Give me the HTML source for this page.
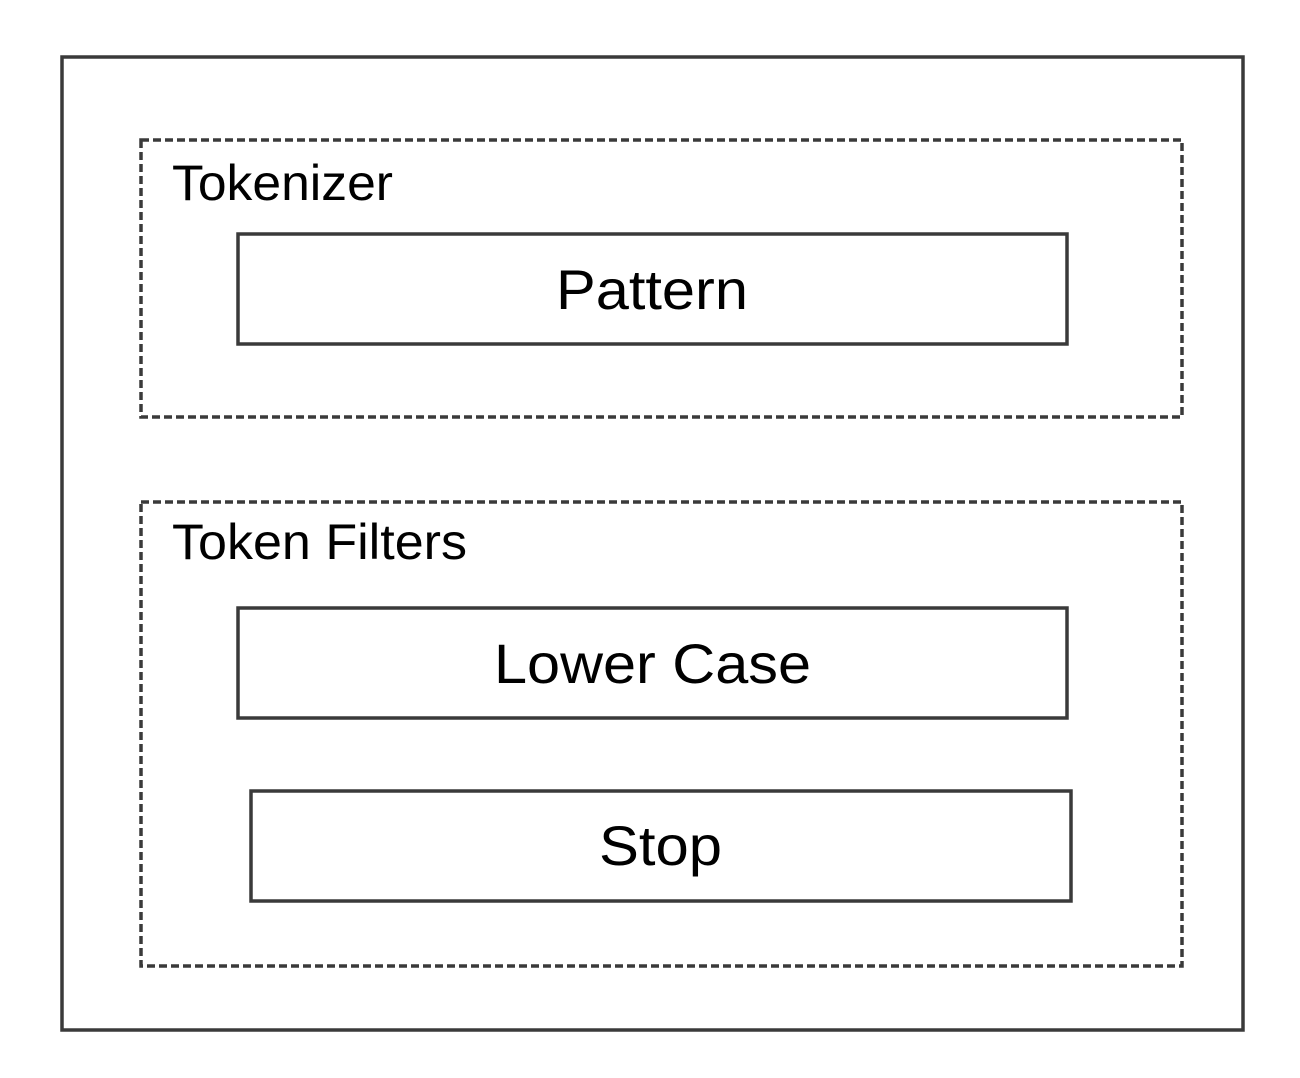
<!DOCTYPE html>
<html><head><style>html,body{margin:0;padding:0;background:#fff;}svg{display:block}</style></head>
<body>
<svg width="1300" height="1078" viewBox="0 0 1300 1078" xmlns="http://www.w3.org/2000/svg">
<g fill="none" stroke="#3a3a3a" stroke-width="3.5">
<rect x="62" y="57" width="1181" height="973"/>
<rect x="141" y="140" width="1041" height="277" stroke-dasharray="8 4"/>
<rect x="141" y="502" width="1041" height="464" stroke-dasharray="8 4"/>
<rect x="238" y="234" width="829" height="110"/>
<rect x="238" y="608" width="829" height="110"/>
<rect x="251" y="791" width="820" height="110"/>
</g>
<g font-family="Liberation Sans, sans-serif" fill="#000">
<text x="172" y="200" font-size="50" textLength="221" lengthAdjust="spacingAndGlyphs">Tokenizer</text>
<text x="172" y="559" font-size="50" textLength="295" lengthAdjust="spacingAndGlyphs">Token Filters</text>
<text x="556" y="309" font-size="56" textLength="192" lengthAdjust="spacingAndGlyphs">Pattern</text>
<text x="494" y="683" font-size="56" textLength="317" lengthAdjust="spacingAndGlyphs">Lower Case</text>
<text x="599" y="865" font-size="56" textLength="123" lengthAdjust="spacingAndGlyphs">Stop</text>
</g>
</svg>
</body></html>
